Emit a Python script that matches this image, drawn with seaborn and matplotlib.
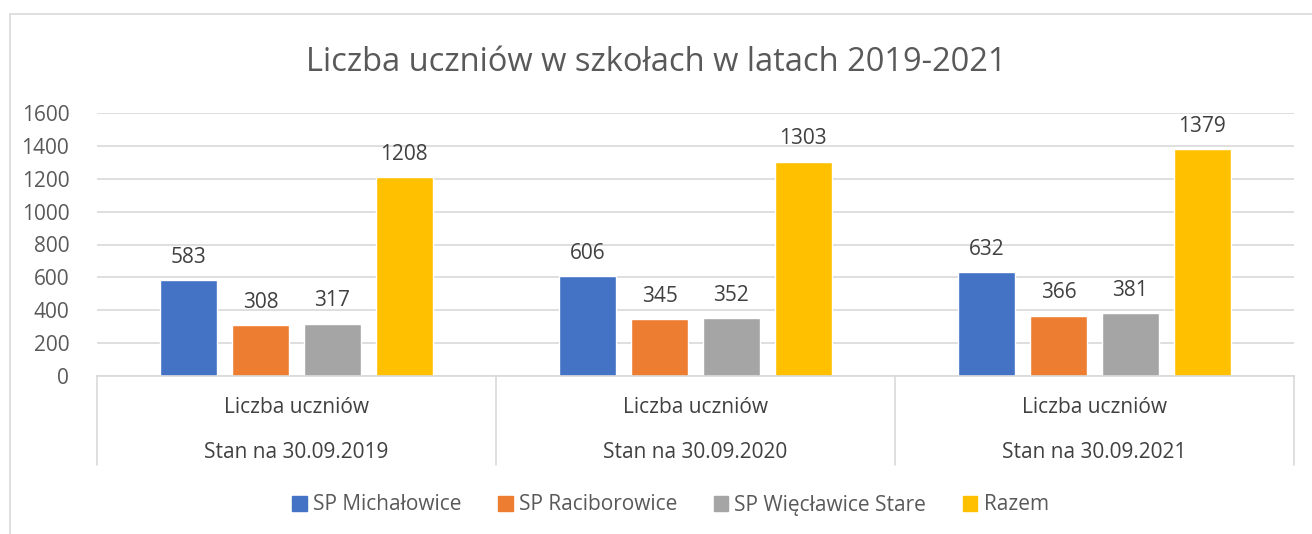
import pandas as pd
import numpy as np
import seaborn as sns
import matplotlib.pyplot as plt
from matplotlib.lines import Line2D

sns.set_theme(style="white")
plt.rcParams['font.family'] = ['Open Sans', 'DejaVu Sans']

# data
okresy = ["Stan na 30.09.2019", "Stan na 30.09.2020", "Stan na 30.09.2021"]
szkoly = ["SP Michałowice", "SP Raciborowice", "SP Więcławice Stare", "Razem"]
michalowice = [583, 606, 632]
raciborowice = [308, 345, 366]
wieclawice = [317, 352, 381]
razem = [1208, 1303, 1379]
kolory = ["#4472C4", "#ED7D31", "#A5A5A5", "#FFC000"]

df = pd.DataFrame({
    "okres": okresy * 4,
    "szkola": np.repeat(szkoly, 3),
    "liczba": michalowice + raciborowice + wieclawice + razem,
})

fig = plt.figure(figsize=(13.12, 5.34), dpi=100)
ax = fig.add_axes([97/1312, 1-376/534, (1294-97)/1312, (376-113)/534])

sns.barplot(data=df, x="okres", y="liczba", hue="szkola", hue_order=szkoly,
            palette=kolory, width=0.72, gap=0.2, ax=ax, legend=False,
            saturation=1, errorbar=None)

for c in ax.containers:
    ax.bar_label(c, fmt="%d", padding=9, fontsize=15, color="#404040")

ax.set_ylim(0, 1600)
ax.set_xlim(-0.5, 2.5)
ax.set_yticks(range(0, 1601, 200))
ax.yaxis.grid(True, color="#d9d9d9", linewidth=1.2)
ax.set_axisbelow(True)
for s in ["top", "right", "left"]:
    ax.spines[s].set_visible(False)
ax.spines["bottom"].set_color("#d9d9d9")
ax.spines["bottom"].set_linewidth(1.2)
ax.tick_params(axis="y", length=0, pad=20, labelsize=15, labelcolor="#595959")
ax.set_xticks([])
ax.set_xlabel("")
ax.set_ylabel("")

# category boxes under axis
tr = ax.get_xaxis_transform()
for xb in [-0.5, 0.5, 1.5, 2.5]:
    ax.add_line(Line2D([xb, xb], [0, -0.338], transform=tr, color="#d9d9d9",
                       linewidth=1.2, clip_on=False))
for i, ok in enumerate(okresy):
    ax.text(i, -0.118, "Liczba uczniów", transform=tr, ha="center", va="center",
            fontsize=15, color="#404040")
    ax.text(i, -0.289, ok, transform=tr, ha="center", va="center",
            fontsize=15, color="#404040")

fig.text(0.5, 1-62/534, "Liczba uczniów w szkołach w latach 2019-2021",
         ha="center", va="center", fontsize=23.5, color="#595959")

handles = [plt.Rectangle((0, 0), 1, 1, color=k) for k in kolory]
fig.legend(handles, szkoly, loc="center", bbox_to_anchor=(0.511, 1-505/534),
           ncol=4, frameon=False, fontsize=15, handlelength=0.7,
           handleheight=0.7, handletextpad=0.3, columnspacing=1.75,
           labelcolor="#595959")

# outer chart frame
fig.add_artist(Line2D([10/1312, 1], [1-14/534, 1-14/534], transform=fig.transFigure,
                      color="#d9d9d9", linewidth=1.2))
fig.add_artist(Line2D([10/1312, 10/1312], [0, 1-14/534], transform=fig.transFigure,
                      color="#d9d9d9", linewidth=1.2))

fig.savefig("out.png", dpi=100)
